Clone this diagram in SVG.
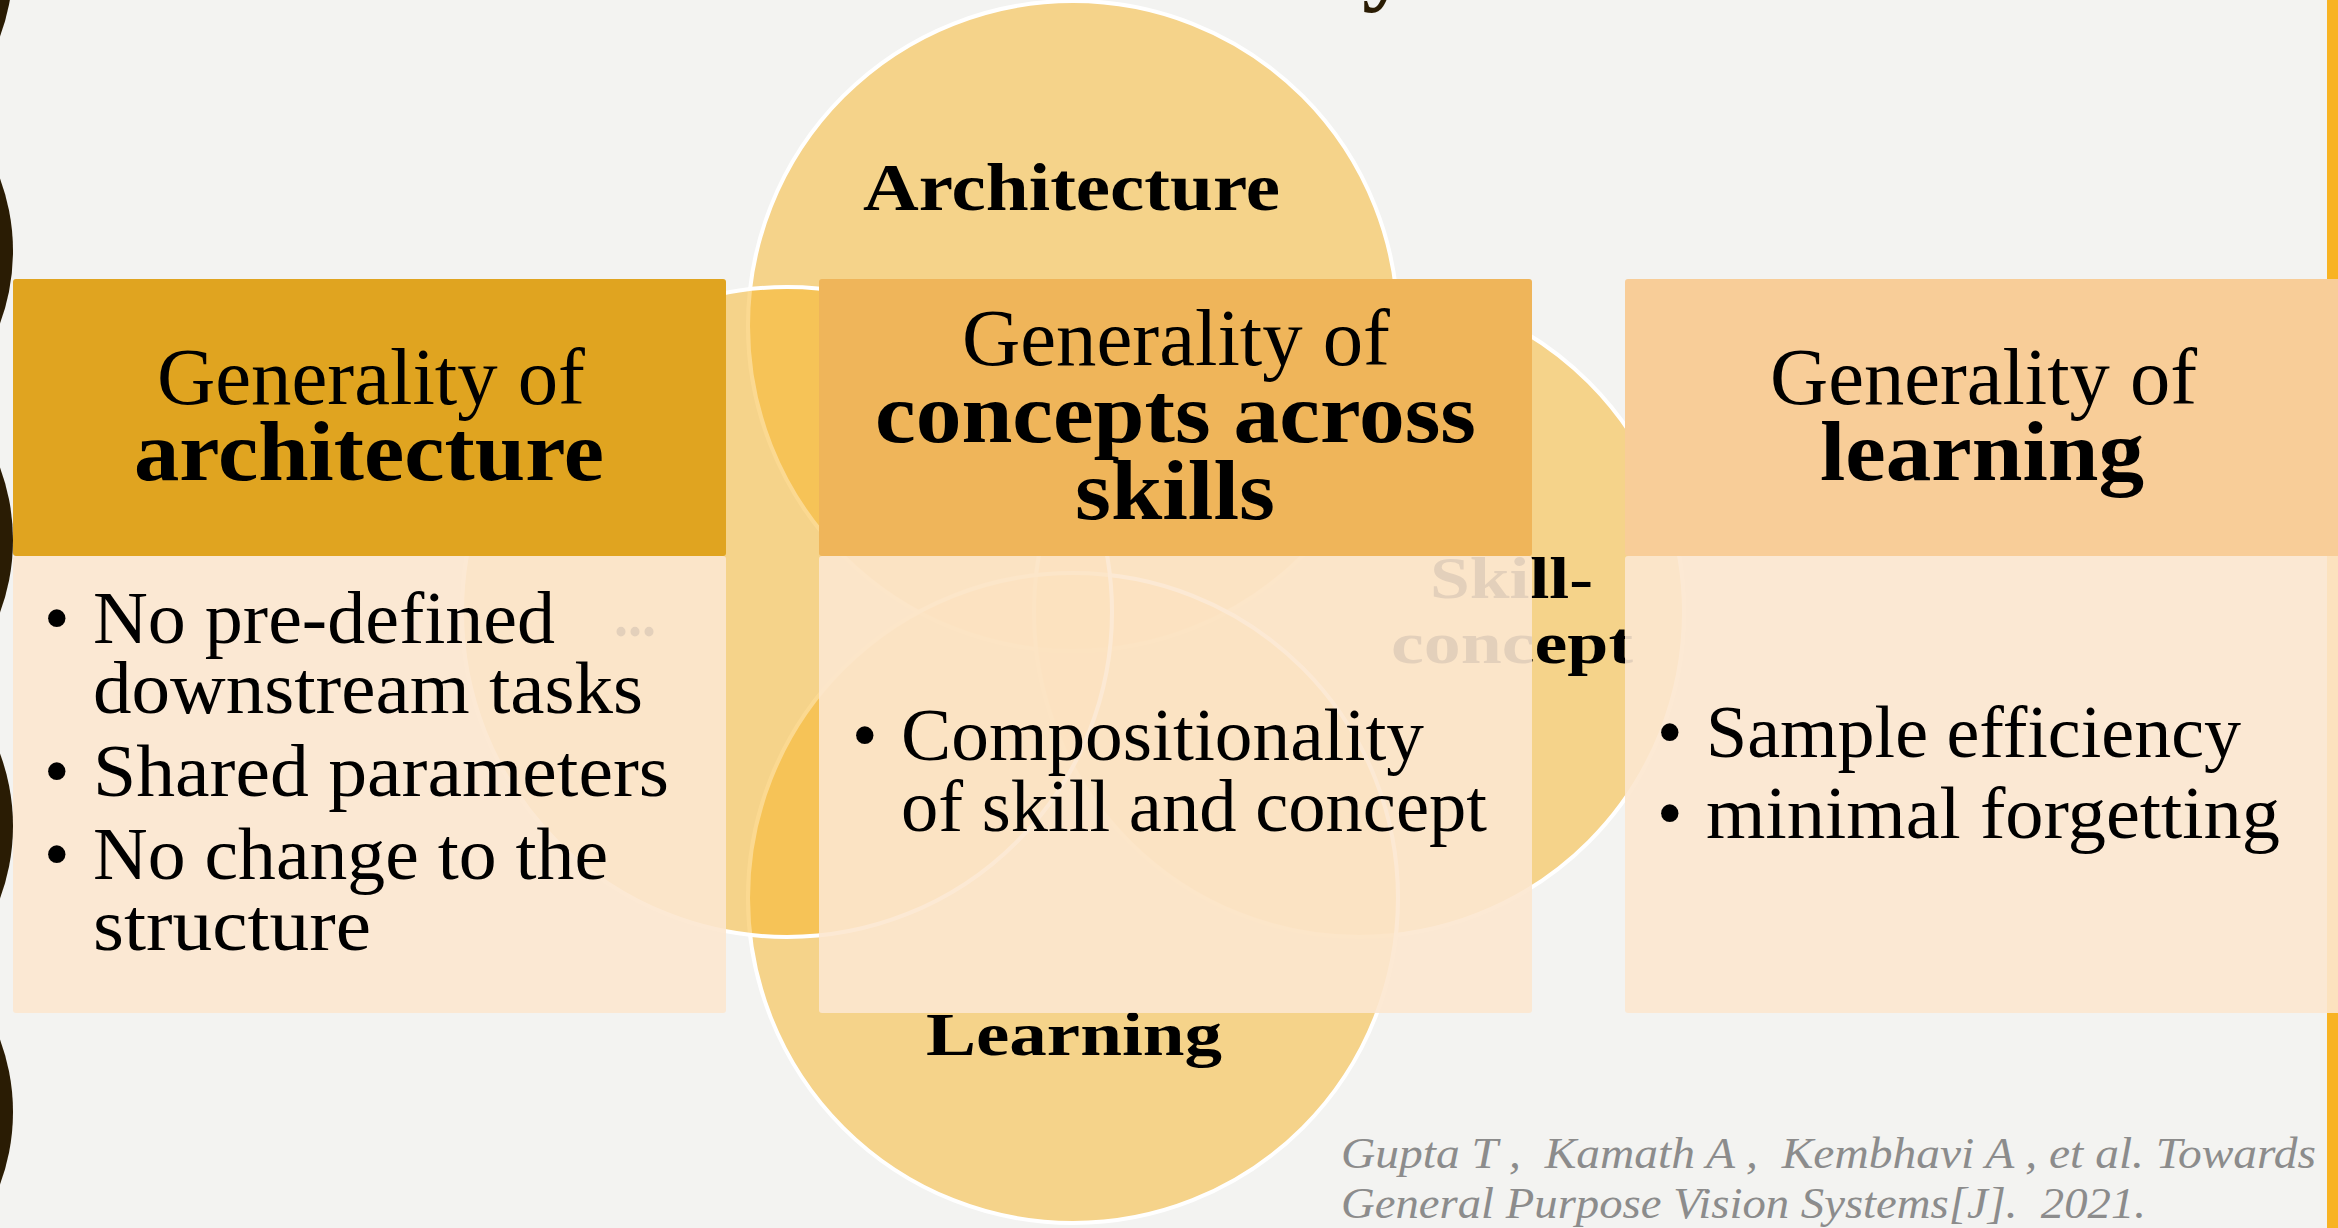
<svg xmlns="http://www.w3.org/2000/svg" width="2338" height="1228" viewBox="0 0 2338 1228">
  <style>
    text { font-family: "Liberation Serif", "Times New Roman", serif; fill: #000; }
    .hd { font-size: 80px; }
    .hdb { font-size: 84px; font-weight: bold; }
    .lbl { font-weight: bold; }
    .body { font-size: 73px; }
    .cite { font-size: 44px; font-style: italic; fill: #8C8C8C; white-space: pre; }
    .set { fill: #F8B323; fill-opacity: 0.5; stroke: #FFFFFF; stroke-width: 4; }
    .deco { fill: #2A1C04; }
    .body-card { fill: #FCE7CF; fill-opacity: 0.9; }
  </style>

  <!-- page background and accent bar -->
  <rect x="0" y="0" width="2338" height="1228" fill="#F3F3F1"/>
  <rect x="2327" y="0" width="11" height="1228" fill="#F8B323"/>

  <!-- dark decorative discs along the left edge -->
  <g id="edge-discs">
    <circle class="deco" cx="-196" cy="-36" r="209"/>
    <circle class="deco" cx="-196" cy="251" r="209"/>
    <circle class="deco" cx="-196" cy="540" r="209"/>
    <circle class="deco" cx="-196" cy="826" r="209"/>
    <circle class="deco" cx="-196" cy="1112" r="209"/>
  </g>

  <!-- tail of the slide title above the visible area -->
  <text x="1362" y="-7" style="font-size:96px;font-weight:bold;fill:#2A1C04">y</text>

  <!-- four-set Venn background -->
  <g id="set-architecture">
    <circle class="set" cx="1073" cy="326" r="325"/>
  </g>
  <g id="set-skill-concept">
    <circle class="set" cx="1359" cy="612" r="325"/>
  </g>
  <g id="set-learning">
    <circle class="set" cx="1073" cy="898" r="325"/>
  </g>
  <g id="set-other">
    <circle class="set" cx="787" cy="612" r="325"/>
  </g>

  <g id="set-labels">
    <text class="lbl" x="863" y="210" style="font-size:68px" textLength="417" lengthAdjust="spacingAndGlyphs">Architecture</text>
    <text class="lbl" x="1430" y="598" style="font-size:60px" textLength="163" lengthAdjust="spacingAndGlyphs">Skill-</text>
    <text class="lbl" x="1391" y="663" style="font-size:60px" textLength="242" lengthAdjust="spacingAndGlyphs">concept</text>
    <text class="lbl" x="926" y="1055" style="font-size:62px" textLength="296" lengthAdjust="spacingAndGlyphs">Learning</text>
    <text class="lbl" x="614" y="636" style="font-size:60px" textLength="42" lengthAdjust="spacingAndGlyphs">...</text>
  </g>

  <!-- card: architecture -->
  <g id="card-architecture">
    <rect x="13" y="279" width="713" height="277" rx="3" fill="#E0A420"/>
    <rect class="body-card" x="13" y="556" width="713" height="457" rx="3"/>
    <text class="hd" x="157" y="404" textLength="428" lengthAdjust="spacingAndGlyphs">Generality of</text>
    <text class="hdb" x="134" y="480" textLength="470" lengthAdjust="spacingAndGlyphs">architecture</text>
    <text class="body" x="44" y="643">•</text>
    <text class="body" x="93" y="643" textLength="462" lengthAdjust="spacingAndGlyphs">No pre-defined</text>
    <text class="body" x="93" y="713" textLength="550" lengthAdjust="spacingAndGlyphs">downstream tasks</text>
    <text class="body" x="44" y="796">•</text>
    <text class="body" x="93" y="796" textLength="576" lengthAdjust="spacingAndGlyphs">Shared parameters</text>
    <text class="body" x="44" y="879">•</text>
    <text class="body" x="93" y="879" textLength="515" lengthAdjust="spacingAndGlyphs">No change to the</text>
    <text class="body" x="93" y="950" textLength="278" lengthAdjust="spacingAndGlyphs">structure</text>
  </g>

  <!-- card: concepts across skills -->
  <g id="card-concepts">
    <rect x="819" y="279" width="713" height="277" rx="3" fill="#EFB55A"/>
    <rect class="body-card" x="819" y="556" width="713" height="457" rx="3"/>
    <text class="hd" x="962" y="365" textLength="428" lengthAdjust="spacingAndGlyphs">Generality of</text>
    <text class="hdb" x="875" y="442" textLength="601" lengthAdjust="spacingAndGlyphs">concepts across</text>
    <text class="hdb" x="1075" y="519" textLength="200" lengthAdjust="spacingAndGlyphs">skills</text>
    <text class="body" x="852" y="760">•</text>
    <text class="body" x="901" y="760" textLength="523" lengthAdjust="spacingAndGlyphs">Compositionality</text>
    <text class="body" x="901" y="831" textLength="586" lengthAdjust="spacingAndGlyphs">of skill and concept</text>
  </g>

  <!-- card: learning -->
  <g id="card-learning">
    <rect x="1625" y="279" width="716" height="277" rx="3" fill="#F8CD98"/>
    <rect class="body-card" x="1625" y="556" width="716" height="457" rx="3"/>
    <text class="hd" x="1770" y="404" textLength="427" lengthAdjust="spacingAndGlyphs">Generality of</text>
    <text class="hdb" x="1820" y="480" textLength="324" lengthAdjust="spacingAndGlyphs">learning</text>
    <text class="body" x="1657" y="757">•</text>
    <text class="body" x="1706" y="757" textLength="535" lengthAdjust="spacingAndGlyphs">Sample efficiency</text>
    <text class="body" x="1657" y="838">•</text>
    <text class="body" x="1706" y="838" textLength="574" lengthAdjust="spacingAndGlyphs">minimal forgetting</text>
  </g>

  <!-- reference -->
  <g id="citation">
    <text class="cite" x="1341" y="1168" textLength="975" lengthAdjust="spacingAndGlyphs">Gupta T ,  Kamath A ,  Kembhavi A , et al. Towards</text>
    <text class="cite" x="1341" y="1218" textLength="805" lengthAdjust="spacingAndGlyphs">General Purpose Vision Systems[J].  2021.</text>
  </g>
</svg>
